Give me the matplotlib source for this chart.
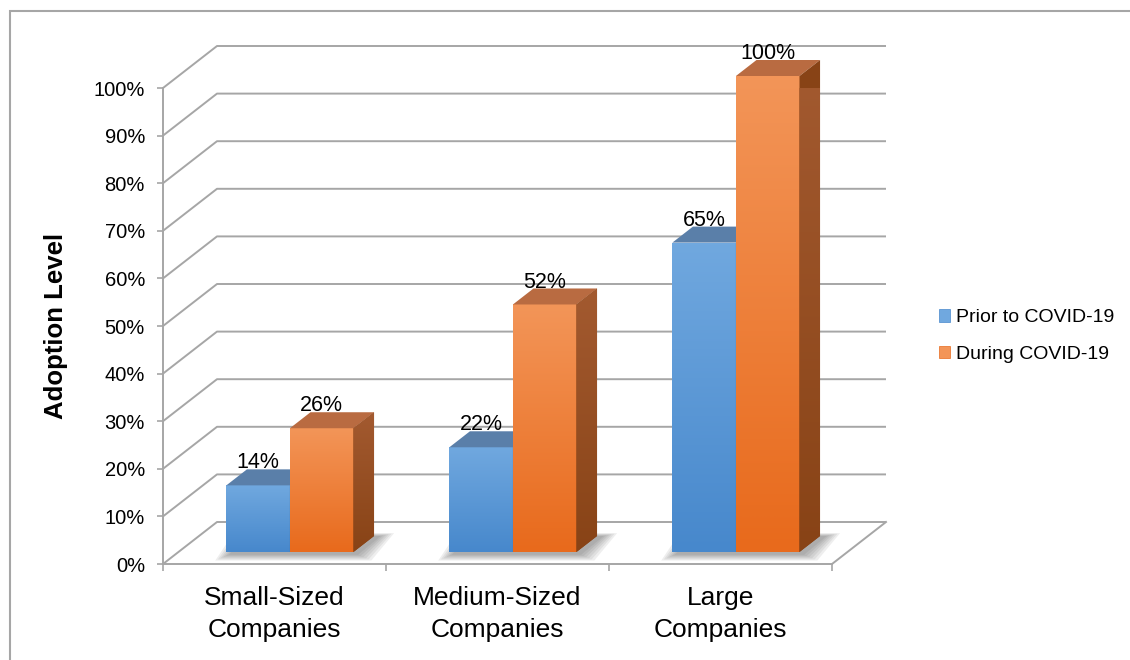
#Gráfico de barras 3D: nivel de adopción antes y durante el COVID-19
import numpy as np
import matplotlib.pyplot as plt
from matplotlib.patches import Polygon, Rectangle, Patch
from matplotlib.colors import LinearSegmentedColormap

plt.rcParams['font.family'] = ['Liberation Sans', 'DejaVu Sans']

#Datos
categorias = ['Small-Sized\nCompanies', 'Medium-Sized\nCompanies', 'Large\nCompanies']
series = ['Prior to COVID-19', 'During COVID-19']
antes = [14, 22, 65]
durante = [26, 52, 100]
ticks_y = [0, 10, 20, 30, 40, 50, 60, 70, 80, 90, 100]

#Colores de cada serie: frente (arriba, abajo), cara superior, lateral (arriba, abajo)
estilos = {
    'Prior to COVID-19': dict(frente=('#70A8DF', '#4788CC'), tapa='#5A7FA9', lado=('#4F6F93', '#3F5E80')),
    'During COVID-19': dict(frente=('#F39558', '#E86A1C'), tapa='#B96B41', lado=('#A35A30', '#884316')),
}
gris = '#A6A6A6'

fig = plt.figure(figsize=(11.3, 6.6), dpi=100)
ax = fig.add_axes([163/1130, (660-564)/660, 669/1130, 476/660])
xlim = (-0.5, 2.5)
ylim = (0, 100)

#profundidad del piso y de las barras (en unidades de datos)
DX = 54/223
DY = 42/4.76
f1 = 12/42          #posición de la cara frontal de las barras
fb = 16/42          #profundidad de la barra
ancho = 0.285

#paredes: líneas de la cuadrícula en perspectiva
for v in ticks_y:
    ax.plot([xlim[0], xlim[0]+DX, xlim[1]+DX], [v, v+DY, v+DY], color=gris, lw=1.4,
            clip_on=False, zorder=1, solid_capstyle='butt')
ax.plot([xlim[1], xlim[1]+DX], [0, DY], color=gris, lw=1.4, clip_on=False, zorder=1)

def degradado(patch, c1, c2, extent, z):
    cmap = LinearSegmentedColormap.from_list('g', [c2, c1])
    grad = np.linspace(0, 1, 100).reshape(-1, 1)
    im = ax.imshow(grad, extent=extent, origin='lower', aspect='auto', cmap=cmap,
                   zorder=z, interpolation='bicubic')
    im.set_clip_path(patch)

x = np.arange(len(categorias))
dbx, dby = fb*DX, fb*DY
b0 = f1*DY
z = 3
for i in range(len(categorias)):
    #sombra difusa sobre el piso
    x0 = i - ancho + f1*DX
    x1 = i + ancho + f1*DX
    for k in range(6):
        e = 0.012*k
        sombra = Polygon([(x0+0.01-e, b0-0.6-e*20), (x1+0.02+e, b0-0.6-e*20),
                          (x1+dbx+0.03+e, b0+dby+e*10), (x0+dbx-e, b0+dby+e*10)],
                         closed=True, facecolor='#303030', edgecolor='none', alpha=0.08,
                         zorder=2, clip_on=False)
        ax.add_patch(sombra)
    for j, (nombre, valores) in enumerate(zip(series, [antes, durante])):
        est = estilos[nombre]
        v = valores[i]
        xa = i - ancho + j*ancho + f1*DX
        xb = xa + ancho
        barra = ax.bar(xa, v, width=ancho, bottom=b0, align='edge', color=est['frente'][1],
                       zorder=z, clip_on=False)[0]
        degradado(barra, est['frente'][0], est['frente'][1], [xa, xb, b0, b0+v], z+0.1)
        tapa = Polygon([(xa, b0+v), (xb, b0+v), (xb+dbx, b0+v+dby), (xa+dbx, b0+v+dby)],
                       closed=True, facecolor=est['tapa'], edgecolor='none', zorder=z+0.2, clip_on=False)
        ax.add_patch(tapa)
        lado = Polygon([(xb, b0), (xb+dbx, b0+dby), (xb+dbx, b0+v+dby), (xb, b0+v)],
                       closed=True, facecolor=est['lado'][1], edgecolor='none', zorder=z+0.2, clip_on=False)
        ax.add_patch(lado)
        degradado(lado, est['lado'][0], est['lado'][1], [xb, xb+dbx, b0, b0+v+dby], z+0.3)
        ax.text((xa+xb)/2, b0+v+dby+0.2, f'{v}%', ha='center', va='baseline',
                fontsize=15.5, color='black', zorder=20)
        z += 1

ax.set_xlim(xlim)
ax.set_ylim(ylim)

#ejes
for lado_eje in ['top', 'right']:
    ax.spines[lado_eje].set_visible(False)
ax.spines['left'].set_color(gris)
ax.spines['bottom'].set_color(gris)
ax.spines['left'].set_linewidth(1.4)
ax.spines['bottom'].set_linewidth(1.4)
ax.set_yticks(ticks_y)
ax.set_yticklabels([f'{t}%' for t in ticks_y])
ax.tick_params(axis='y', length=4, width=1.2, color=gris, labelsize=14.5, pad=9)
ax.set_xticks([-0.5, 0.5, 1.5, 2.5])
ax.set_xticklabels([])
ax.tick_params(axis='x', which='major', length=5, width=1.2, color=gris)
ax.set_xticks(x, minor=True)
ax.set_xticklabels(categorias, minor=True, fontsize=19, linespacing=1.42)
ax.tick_params(axis='x', which='minor', length=0, pad=16)
ax.set_ylabel('Adoption Level', fontsize=18.5, fontweight='bold')
ax.yaxis.set_label_coords(-0.142, 0.5)
ax.patch.set_alpha(0)

#leyenda
handles = [Patch(facecolor=estilos[s]['frente'][0], edgecolor=estilos[s]['frente'][1], lw=0.5) for s in series]
fig.legend(handles, series, loc='center left', bbox_to_anchor=(921/1130, 1-336/660),
           frameon=False, fontsize=14, handlelength=0.6, handleheight=0.6,
           handletextpad=0.3, labelspacing=1.0)

#marco del gráfico
fig.patches.append(Rectangle((10/1130, -0.1), 1.2, 1.1 - 11/660, transform=fig.transFigure,
                             fill=False, edgecolor=gris, lw=1.5))

fig.savefig('out.png', dpi=100)
